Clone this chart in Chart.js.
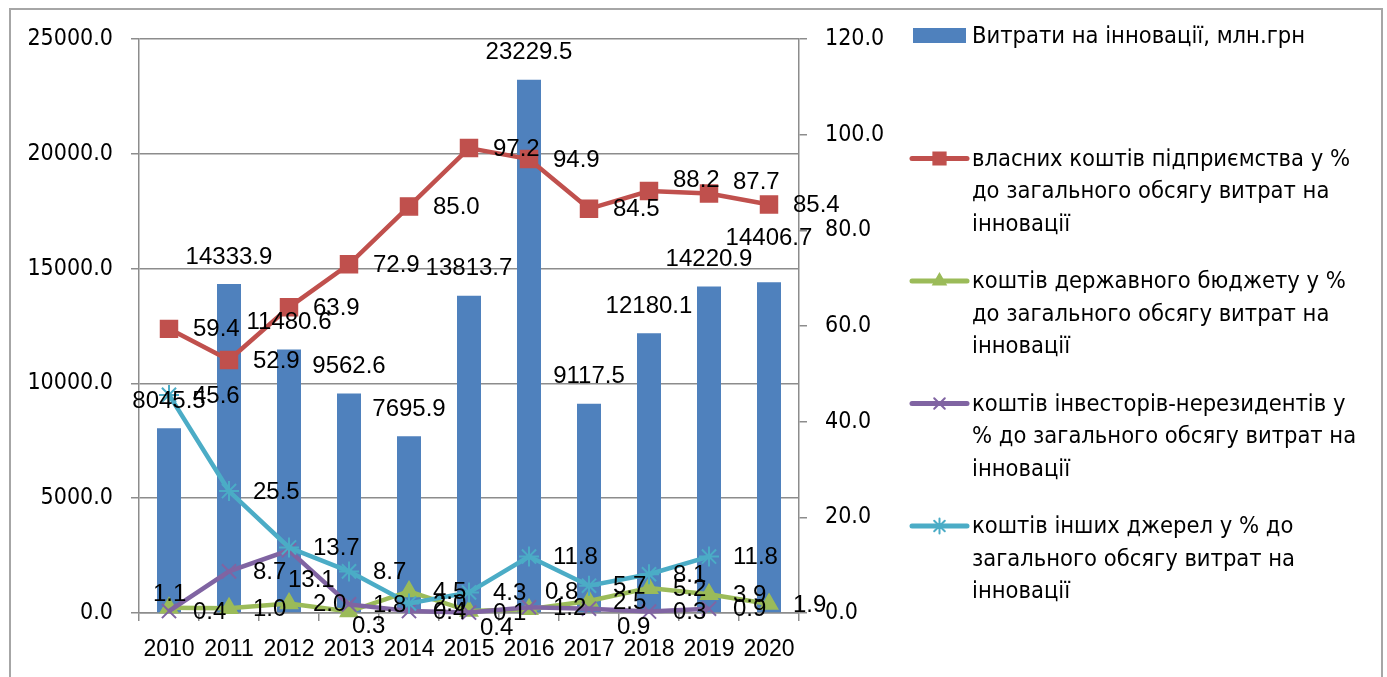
<!DOCTYPE html>
<html>
<head>
<meta charset="utf-8">
<script src="https://cdn.jsdelivr.net/npm/chart.js@4.4.1/dist/chart.umd.min.js"></script>
<style>
    html, body { margin: 0; padding: 0; background: #fff; overflow: hidden; }
    #wrap { position: relative; width: 1387px; height: 677px; }
    #frame { position: absolute; left: 9px; top: 8px; width: 1374px; height: 720px; border: 2px solid #a6a6a6; box-sizing: border-box; }
    #chart { position: absolute; left: 0; top: 0; }
</style>
</head>
<body>
<div id="wrap">
    <div id="frame"></div>
    <canvas id="chart" width="1387" height="677"></canvas>
</div>
<script>
const years = ['2010', '2011', '2012', '2013', '2014', '2015', '2016', '2017', '2018', '2019', '2020'];
const innovationCosts = [8045.5, 14333.9, 11480.6, 9562.6, 7695.9, 13813.7, 23229.5, 9117.5, 12180.1, 14220.9, 14406.7];
const ownFunds = [59.4, 52.9, 63.9, 72.9, 85.0, 97.2, 94.9, 84.5, 88.2, 87.7, 85.4];
const stateBudget = [1.1, 1.0, 2.0, 0.3, 4.5, 0.4, 0.8, 2.5, 5.2, 3.9, 1.9];
const foreignInvestors = [0.4, 8.7, 13.1, 1.8, 0.4, 0.1, 1.2, 0.9, 0.3, 0.9, null];
const otherSources = [45.6, 25.5, 13.7, 8.7, 2.0, 4.3, 11.8, 5.7, 8.1, 11.8, null];

const axisFont = { family: '"DejaVu Sans Condensed", "DejaVu Sans", sans-serif', size: 23 };
const labelFont = '24px "Liberation Sans", Arial, sans-serif';
const legendFont = '23.5px "DejaVu Sans Condensed", "DejaVu Sans", sans-serif';
const gridColor = '#8c8c8c';

// data labels sit right of line points / above bars, like the excel default;
// a few were dragged around in the original, nudges keep that
const dataLabels = {
    id: 'dataLabels',
    afterDatasetsDraw(chart) {
        const ctx = chart.ctx;
        ctx.save();
        ctx.font = labelFont;
        ctx.fillStyle = '#000';
        ctx.textBaseline = 'middle';
        chart.data.datasets.forEach((ds, i) => {
            const meta = chart.getDatasetMeta(i);
            const nudge = ds.labelNudge || {};
            meta.data.forEach((el, j) => {
                const v = ds.data[j];
                if (v === null || v === undefined) return;
                const text = v.toFixed(1);
                const [dx, dy] = nudge[j] || [0, 0];
                if (ds.type === 'line') {
                    ctx.textAlign = 'left';
                    ctx.fillText(text, el.x + 24 + dx, el.y + 1 + dy);
                } else {
                    ctx.textAlign = 'center';
                    ctx.fillText(text, el.x + dx, el.y - 27 + dy);
                }
            });
        });
        ctx.restore();
    }
};

const sideLegend = {
    id: 'sideLegend',
    afterDraw(chart) {
        const ctx = chart.ctx;
        const x0 = 912, x1 = 967, textX = 972;
        ctx.save();
        ctx.font = legendFont;
        ctx.textBaseline = 'middle';
        ctx.textAlign = 'left';
        chart.data.datasets.forEach((ds, i) => {
            const y = 36 + i * 122.5;
            if (ds.type === 'line') {
                ctx.strokeStyle = ds.borderColor;
                ctx.lineWidth = 5;
                ctx.lineCap = 'round';
                ctx.beginPath();
                ctx.moveTo(x0, y);
                ctx.lineTo(x1, y);
                ctx.stroke();
                ctx.fillStyle = ds.pointBackgroundColor;
                ctx.strokeStyle = ds.pointBorderColor;
                ctx.lineWidth = ds.pointBorderWidth;
                Chart.helpers.drawPoint(ctx, {
                    pointStyle: ds.pointStyle,
                    radius: ds.pointRadius * 0.75,
                    borderWidth: ds.pointBorderWidth,
                    rotation: 0
                }, (x0 + x1) / 2, y);
            } else {
                ctx.fillStyle = ds.backgroundColor;
                ctx.fillRect(x0 + 1, y - 8, x1 - x0 - 2, 15);
            }
            ctx.fillStyle = '#000';
            ds.label.split('\n').forEach((line, k) => {
                ctx.fillText(line, textX, y + 1 + k * 32.5);
            });
        });
        ctx.restore();
    }
};

const lineBase = {
    type: 'line',
    yAxisID: 'y1',
    borderWidth: 4.5,
    tension: 0,
    clip: false,
    pointBorderWidth: 1.5
};

new Chart(document.getElementById('chart'), {
    type: 'bar',
    data: {
        labels: years,
        datasets: [
            {
                label: 'Витрати на інновації, млн.грн',
                data: innovationCosts,
                backgroundColor: '#4f81bd',
                barPercentage: 0.4,
                categoryPercentage: 1,
                yAxisID: 'y',
                order: 10,
                labelNudge: { 10: [0, -17] }
            },
            {
                ...lineBase,
                label: 'власних коштів підприємства у %\nдо загального обсягу витрат на\nінновації',
                data: ownFunds,
                borderColor: '#c0504d',
                pointStyle: 'rect',
                pointRadius: 12,
                pointBackgroundColor: '#c0504d',
                pointBorderColor: '#c0504d',
                order: 4,
                labelNudge: { 8: [0, -12], 9: [0, -12] }
            },
            {
                ...lineBase,
                label: 'коштів державного бюджету у %\nдо загального обсягу витрат на\nінновації',
                data: stateBudget,
                borderColor: '#9bbb59',
                pointStyle: 'triangle',
                pointRadius: 10,
                pointBackgroundColor: '#9bbb59',
                pointBorderColor: '#9bbb59',
                order: 3,
                labelNudge: { 0: [-40, -14], 3: [-21, 14], 5: [-13, 16], 6: [-8, -18] }
            },
            {
                ...lineBase,
                label: 'коштів інвесторів-нерезидентів у\n% до загального обсягу витрат на\nінновації',
                data: foreignInvestors,
                borderColor: '#8064a2',
                pointStyle: 'crossRot',
                pointRadius: 10,
                pointBorderWidth: 2,
                pointBackgroundColor: '#8064a2',
                pointBorderColor: '#8064a2',
                order: 2,
                labelNudge: { 2: [-25, 29], 7: [4, 18] }
            },
            {
                ...lineBase,
                label: 'коштів інших джерел у % до\nзагального обсягу витрат на\nінновації',
                data: otherSources,
                borderColor: '#4bacc6',
                pointStyle: 'star',
                pointRadius: 10,
                pointBorderWidth: 2,
                pointBackgroundColor: '#4bacc6',
                pointBorderColor: '#4bacc6',
                order: 1
            }
        ]
    },
    options: {
        responsive: false,
        devicePixelRatio: 1,
        animation: false,
        events: [],
        layout: {
            padding: { left: 10, right: 498, top: 39, bottom: 0 }
        },
        plugins: {
            legend: { display: false },
            tooltip: { enabled: false }
        },
        scales: {
            x: {
                grid: {
                    offset: true,
                    drawOnChartArea: false,
                    color: gridColor,
                    lineWidth: 1.5,
                    tickLength: 8
                },
                border: { color: gridColor, width: 1.5 },
                ticks: {
                    color: '#000',
                    padding: 15,
                    maxRotation: 0,
                    autoSkip: false,
                    font: { family: '"Liberation Sans", Arial, sans-serif', size: 23 }
                },
                afterFit(scale) { scale.height = 64; }
            },
            y: {
                position: 'left',
                min: 0,
                max: 25000,
                ticks: {
                    stepSize: 5000,
                    color: '#000',
                    padding: 18,
                    font: axisFont,
                    callback: v => v.toFixed(1)
                },
                grid: { color: gridColor, lineWidth: 1.5, tickLength: 8 },
                border: { color: gridColor, width: 1.5 },
                afterFit(scale) { scale.width = 129; }
            },
            y1: {
                position: 'right',
                min: 0,
                max: 120,
                ticks: {
                    stepSize: 20,
                    color: '#000',
                    padding: 18,
                    font: axisFont,
                    callback: v => v.toFixed(1)
                },
                grid: { drawOnChartArea: false, color: gridColor, lineWidth: 1.5, tickLength: 8 },
                border: { color: gridColor, width: 1.5 },
                afterFit(scale) { scale.width = 90; }
            }
        }
    },
    plugins: [dataLabels, sideLegend]
});
</script>
</body>
</html>
